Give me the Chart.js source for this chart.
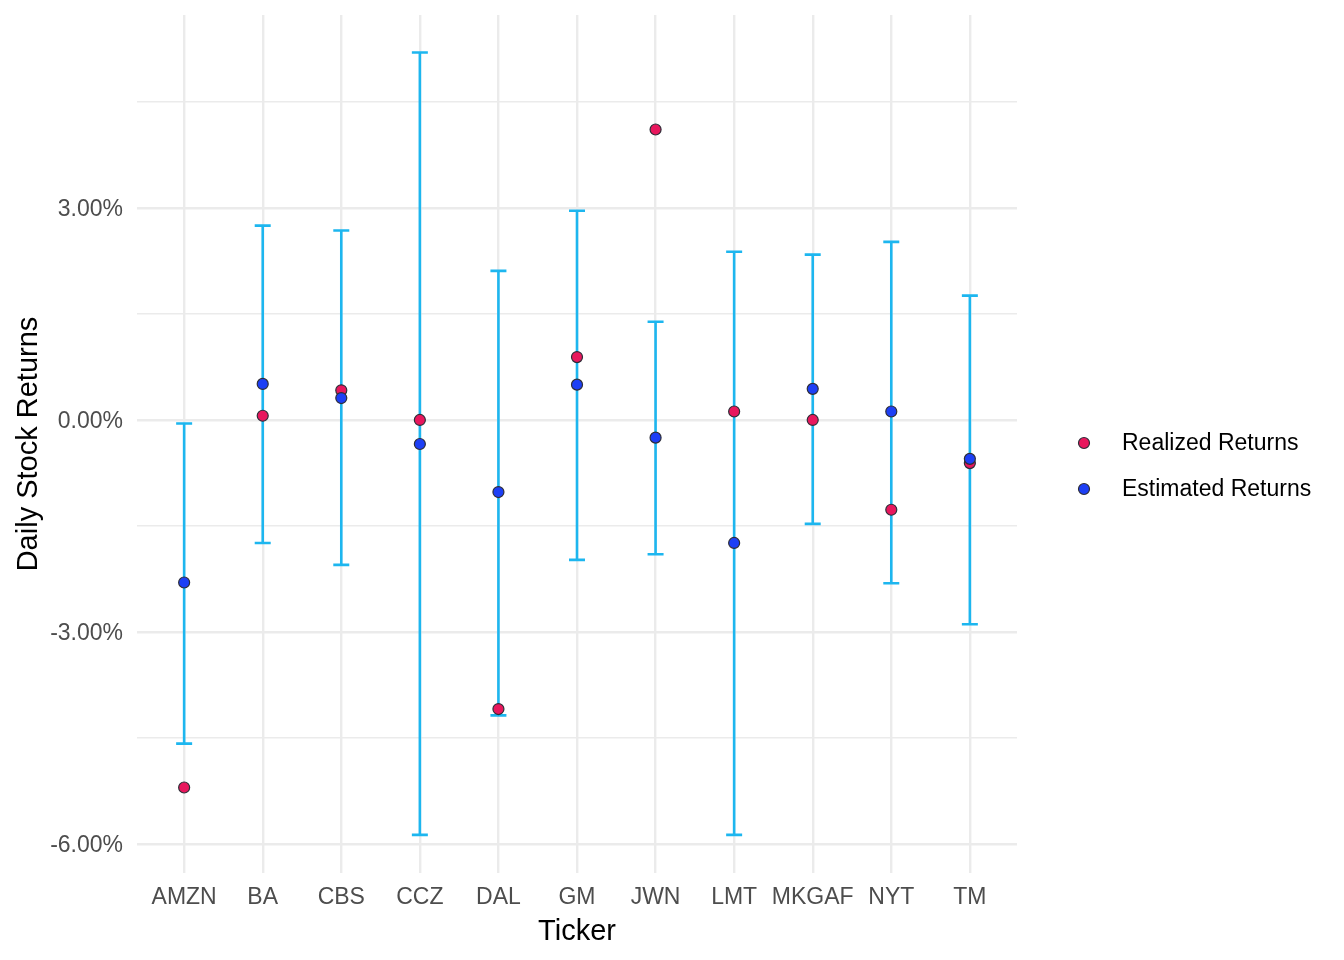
<!DOCTYPE html>
<html>
<head>
<meta charset="utf-8">
<script src="https://cdn.jsdelivr.net/npm/chart.js@4/dist/chart.umd.min.js"></script>
<style>
  body { margin: 0; background: #fff; }
  #wrap { width: 1344px; height: 960px; }
</style>
</head>
<body>
<div id="wrap"><canvas id="chart"></canvas></div>
<script>
// tickers on the x axis
const tickers = ['AMZN', 'BA', 'CBS', 'CCZ', 'DAL', 'GM', 'JWN', 'LMT', 'MKGAF', 'NYT', 'TM'];
// daily returns in percent
const realized = [-5.20, 0.06, 0.42, 0.00, -4.09, 0.89, 4.11, 0.12, 0.00, -1.27, -0.61];
const estimated = [-2.30, 0.51, 0.31, -0.34, -1.02, 0.50, -0.25, -1.74, 0.44, 0.12, -0.55];
// interval around the estimate
const upper = [-0.05, 2.75, 2.68, 5.20, 2.11, 2.96, 1.39, 2.38, 2.34, 2.52, 1.76];
const lower = [-4.58, -1.74, -2.05, -5.87, -4.18, -1.98, -1.90, -5.87, -1.47, -2.31, -2.89];
// y gridlines, labelled only every 3%
const yTicks = [-6, -4.5, -3, -1.5, 0, 1.5, 3, 4.5];

const tickColor = '#4D4D4D';
const gridColor = '#EBEBEB';
const barColor = '#1DB6EF';
const font = 'Liberation Sans, Arial, Helvetica, sans-serif';

function toPoints(vals) {
    return vals.map((v, i) => ({ x: i, y: v }));
}

const errorBars = {
    id: 'errorBars',
    beforeDatasetsDraw(chart) {
        const ctx = chart.ctx;
        const xs = chart.scales.x, ys = chart.scales.y;
        ctx.save();
        ctx.strokeStyle = barColor;
        ctx.lineWidth = 2.6;
        for (let i = 0; i < tickers.length; i++) {
            const x = xs.getPixelForValue(i);
            const y1 = ys.getPixelForValue(upper[i]);
            const y2 = ys.getPixelForValue(lower[i]);
            ctx.beginPath();
            ctx.moveTo(x, y1); ctx.lineTo(x, y2);
            ctx.moveTo(x - 8, y1); ctx.lineTo(x + 8, y1);
            ctx.moveTo(x - 8, y2); ctx.lineTo(x + 8, y2);
            ctx.stroke();
        }
        ctx.restore();
    }
};

// legend placed like ggplot's, to the right of the panel
const sideLegend = {
    id: 'sideLegend',
    afterDraw(chart) {
        const ctx = chart.ctx;
        const area = chart.chartArea;
        ctx.save();
        ctx.font = '23px ' + font;
        ctx.textBaseline = 'middle';
        ctx.textAlign = 'left';
        chart.data.datasets.forEach((ds, i) => {
            const y = 443 + i * 46;
            const x = area.right + 67;
            ctx.beginPath();
            ctx.arc(x, y, 5.5, 0, Math.PI * 2);
            ctx.fillStyle = ds.backgroundColor;
            ctx.fill();
            ctx.lineWidth = 1.2;
            ctx.strokeStyle = ds.borderColor;
            ctx.stroke();
            ctx.fillStyle = '#000';
            ctx.fillText(ds.label, x + 38, y + 1);
        });
        ctx.restore();
    }
};

const data = {
    datasets: [{
        label: 'Realized Returns',
        data: toPoints(realized),
        backgroundColor: '#E8175D',
        borderColor: '#2E2E38',
        borderWidth: 1.2,
        pointRadius: 5.5,
        order: 2
    }, {
        label: 'Estimated Returns',
        data: toPoints(estimated),
        backgroundColor: '#1D3FF5',
        borderColor: '#2E2E38',
        borderWidth: 1.2,
        pointRadius: 5.5,
        order: 1
    }]
};

const config = {
    type: 'scatter',
    data: data,
    plugins: [errorBars, sideLegend],
    options: {
        responsive: true,
        maintainAspectRatio: false,
        animation: false,
        layout: { padding: { top: 15, right: 327, left: 0, bottom: 0 } },
        plugins: {
            legend: { display: false },
            tooltip: { enabled: false }
        },
        scales: {
            x: {
                type: 'linear',
                min: -0.6,
                max: tickers.length - 0.4,
                afterBuildTicks: (axis) => { axis.ticks = tickers.map((t, i) => ({ value: i })); },
                afterFit: (axis) => {
                    axis.height = 87;
                    axis.paddingLeft = 0;
                    axis.paddingRight = 0;
                },
                ticks: {
                    color: tickColor,
                    font: { family: font, size: 23 },
                    padding: 11,
                    maxRotation: 0,
                    autoSkip: false,
                    callback: (v) => tickers[v]
                },
                grid: { color: gridColor, lineWidth: 2.4, drawTicks: false },
                border: { display: false },
                title: {
                    display: true,
                    text: 'Ticker',
                    color: '#000',
                    font: { family: font, size: 29 },
                    padding: { top: 0, bottom: 11 }
                }
            },
            y: {
                min: -6.41,
                max: 5.73,
                afterBuildTicks: (axis) => { axis.ticks = yTicks.map(v => ({ value: v })); },
                afterFit: (axis) => {
                    axis.width = 137;
                    axis.paddingTop = 0;
                    axis.paddingBottom = 0;
                },
                ticks: {
                    color: tickColor,
                    font: { family: font, size: 23 },
                    padding: 14,
                    labelOffset: 2,
                    callback: (v) => (v % 3 === 0 ? v.toFixed(2) + '%' : '')
                },
                grid: {
                    color: gridColor,
                    lineWidth: (c) => (c.tick && c.tick.value % 3 === 0 ? 2.4 : 1.4),
                    drawTicks: false
                },
                border: { display: false },
                title: {
                    display: true,
                    text: 'Daily Stock Returns',
                    color: '#000',
                    font: { family: font, size: 29 },
                    padding: { top: 12, bottom: 0 }
                }
            }
        }
    }
};

new Chart(document.getElementById('chart'), config);
</script>
</body>
</html>
